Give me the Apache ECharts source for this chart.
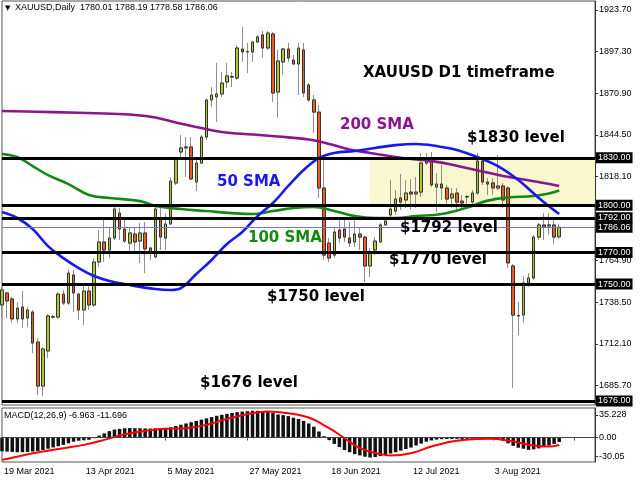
<!DOCTYPE html>
<html><head><meta charset="utf-8">
<script src="https://cdn.jsdelivr.net/npm/echarts@6/dist/echarts.min.js"></script>
<style>html,body{margin:0;padding:0;background:#fff}#c{width:640px;height:480px}</style>
</head><body><div id="c"></div>
<script>
const dates = ['19 Mar 2021','22 Mar 2021','23 Mar 2021','24 Mar 2021','25 Mar 2021','26 Mar 2021','29 Mar 2021','30 Mar 2021','31 Mar 2021',
'1 Apr 2021','5 Apr 2021','6 Apr 2021','7 Apr 2021','8 Apr 2021','9 Apr 2021','12 Apr 2021','13 Apr 2021','14 Apr 2021','15 Apr 2021','16 Apr 2021','19 Apr 2021','20 Apr 2021','21 Apr 2021','22 Apr 2021','23 Apr 2021','26 Apr 2021','27 Apr 2021','28 Apr 2021','29 Apr 2021','30 Apr 2021',
'3 May 2021','4 May 2021','5 May 2021','6 May 2021','7 May 2021','10 May 2021','11 May 2021','12 May 2021','13 May 2021','14 May 2021','17 May 2021','18 May 2021','19 May 2021','20 May 2021','21 May 2021','24 May 2021','25 May 2021','26 May 2021','27 May 2021','28 May 2021','31 May 2021',
'1 Jun 2021','2 Jun 2021','3 Jun 2021','4 Jun 2021','7 Jun 2021','8 Jun 2021','9 Jun 2021','10 Jun 2021','11 Jun 2021','14 Jun 2021','15 Jun 2021','16 Jun 2021','17 Jun 2021','18 Jun 2021','21 Jun 2021','22 Jun 2021','23 Jun 2021','24 Jun 2021','25 Jun 2021','28 Jun 2021','29 Jun 2021','30 Jun 2021',
'1 Jul 2021','2 Jul 2021','5 Jul 2021','6 Jul 2021','7 Jul 2021','8 Jul 2021','9 Jul 2021','12 Jul 2021','13 Jul 2021','14 Jul 2021','15 Jul 2021','16 Jul 2021','19 Jul 2021','20 Jul 2021','21 Jul 2021','22 Jul 2021','23 Jul 2021','26 Jul 2021','27 Jul 2021','28 Jul 2021','29 Jul 2021','30 Jul 2021',
'2 Aug 2021','3 Aug 2021','4 Aug 2021','5 Aug 2021','6 Aug 2021','9 Aug 2021','10 Aug 2021','11 Aug 2021','12 Aug 2021','13 Aug 2021','16 Aug 2021','17 Aug 2021','18 Aug 2021','19 Aug 2021','20 Aug 2021'];

const open = [1736.8,1744.4,1740.6,1727.9,1735.5,1728.5,1732.3,1713.3,1685.4,1707.6,
1729.1,1729.1,1743.7,1738.0,1755.8,1743.7,1733.6,1745.6,1736.8,1764.0,
1776.7,1771.6,1779.2,1795.0,1784.9,1776.0,1781.7,1777.3,1782.4,1772.9,
1767.2,1791.3,1779.2,1788.1,1814.1,1833.7,1836.3,1836.9,1814.7,1826.7,
1843.2,1866.7,1868.6,1870.5,1878.1,1881.2,1880.6,1899.0,1897.1,1897.1,
1903.4,1907.9,1899.6,1908.5,1871.7,1890.8,1899.0,1892.0,1889.5,1898.4,
1876.2,1866.7,1859.0,1810.9,1776.0,1768.4,1784.3,1784.9,1779.2,1776.7,
1781.7,1779.8,1761.5,1771.6,1776.7,1787.5,1793.8,1796.3,1804.6,1803.3,
1808.3,1807.1,1808.3,1826.7,1829.9,1811.5,1813.4,1810.9,1804.6,1807.7,
1802.6,1805.2,1802.0,1807.7,1828.0,1814.7,1814.1,1810.9,1812.2,1810.9,
1761.5,1729.8,1730.4,1750.7,1753.9,1779.8,1787.5,1786.8,1787.5,1780.01];
const close = [1746.3,1739.3,1727.9,1734.8,1727.9,1733.6,1712.7,1685.4,1708.9,1729.8,
1729.4,1743.7,1738.0,1757.0,1744.4,1733.6,1745.6,1736.8,1764.0,1776.7,
1771.6,1779.2,1797.6,1784.9,1777.3,1782.4,1776.7,1782.4,1772.3,1769.7,
1797.6,1779.8,1788.1,1815.3,1829.9,1836.3,1836.9,1816.6,1826.7,1843.2,
1866.7,1869.8,1870.5,1877.4,1881.9,1881.5,1899.6,1897.1,1897.4,1903.4,
1906.6,1899.6,1909.1,1871.1,1891.4,1899.0,1893.3,1889.5,1899.6,1871.1,
1866.7,1859.0,1810.9,1768.4,1766.5,1783.0,1779.2,1779.8,1776.0,1781.7,
1779.8,1761.5,1770.3,1777.3,1787.5,1790.0,1797.6,1803.9,1802.0,1807.7,
1807.1,1808.3,1826.7,1829.9,1812.8,1813.4,1810.9,1803.9,1807.1,1802.0,
1801.4,1805.5,1807.7,1828.0,1814.7,1813.4,1810.9,1812.2,1803.3,1763.4,
1730.4,1730.1,1750.7,1753.9,1779.8,1787.5,1786.2,1787.5,1779.8,1786.06];
const low = [1729.1,1728.5,1725.3,1725.3,1722.2,1722.8,1706.3,1679.7,1678.8,1703.2,
1728.0,1727.9,1736.8,1736.8,1732.3,1727.2,1724.1,1733.6,1735.5,1760.8,
1764.0,1766.5,1777.9,1777.9,1776.0,1769.7,1770.3,1763.4,1757.0,1765.3,
1766.5,1771.6,1771.6,1787.5,1812.8,1828.6,1817.9,1816.0,1809.0,1826.1,
1841.3,1862.2,1852.7,1868.6,1874.3,1874.9,1879.3,1890.8,1883.8,1890.8,
1902.8,1893.3,1898.4,1865.4,1855.3,1882.5,1890.8,1888.9,1869.8,1868.6,
1865.4,1845.8,1804.6,1765.3,1764.0,1766.5,1776.0,1776.7,1773.5,1773.5,
1771.6,1751.3,1754.5,1768.4,1776.0,1786.8,1790.6,1793.8,1797.0,1798.2,
1797.0,1798.2,1805.2,1825.5,1811.5,1795.7,1803.3,1798.9,1798.2,1795.7,
1798.2,1798.9,1800.1,1806.5,1812.8,1806.5,1806.5,1809.6,1798.2,1760.2,
1684.2,1717.7,1725.3,1748.2,1752.6,1777.9,1777.9,1781.1,1775.4,1778.58];
const high = [1748.2,1745.0,1741.8,1738.6,1745.6,1735.5,1733.6,1715.8,1710.1,1731.0,
1730.5,1745.0,1746.3,1759.6,1758.9,1744.4,1749.4,1749.4,1766.5,1784.3,
1790.6,1786.2,1800.1,1798.2,1790.6,1785.6,1786.2,1788.7,1789.4,1773.5,
1798.9,1798.2,1795.0,1817.9,1830.5,1844.5,1843.2,1843.2,1828.6,1844.5,
1867.5,1874.9,1890.1,1884.4,1890.1,1884.4,1901.5,1912.9,1902.8,1904.0,
1907.9,1910.4,1910.4,1909.8,1898.4,1899.6,1902.8,1895.2,1902.8,1902.8,
1877.4,1869.8,1863.5,1831.8,1779.2,1786.2,1790.6,1791.9,1789.4,1792.5,
1786.2,1780.5,1772.9,1779.8,1788.7,1791.9,1816.0,1809.6,1819.8,1816.0,
1816.6,1817.9,1833.1,1833.1,1833.7,1820.4,1825.5,1812.8,1810.9,1810.9,
1806.5,1806.5,1809.6,1833.1,1829.9,1817.2,1817.2,1831.8,1814.1,1812.2,
1762.7,1738.6,1755.1,1757.0,1781.1,1788.7,1795.0,1795.0,1792.5,1788.19];

const sma200 = [[0,1859.7],[10,1859.0],[20,1858.1],[26,1857.2],[30,1855.6],[34,1852.4],[38,1849.6],[43,1846.4],[49,1844.8],[54,1843.5],[60,1841.6],[64,1838.8],[68,1835.3],[72,1833.1],[77,1830.5],[82,1828.6],[86,1827.0],[90,1824.2],[94,1821.4],[98,1818.5],[102,1816.3],[106,1814.1],[109,1812.2]];
const sma100 = [[0,1832.5],[3,1830.5],[6,1824.8],[9,1819.1],[13,1813.4],[17,1806.5],[21,1804.6],[27,1802.6],[30,1799.5],[35,1797.6],[40,1796.3],[45,1795.0],[49,1794.4],[53,1796.3],[57,1798.2],[61,1798.9],[65,1796.3],[69,1793.1],[73,1791.9],[77,1791.9],[81,1793.1],[86,1794.4],[91,1798.5],[95,1802.9],[99,1804.9],[104,1805.8],[107,1807.4],[109,1809.3]];
const sma50 = [[0,1795.7],[3,1791.9],[6,1784.9],[9,1774.1],[12,1766.5],[15,1760.2],[18,1755.1],[21,1752.0],[25,1749.4],[30,1746.9],[33,1746.3],[35,1747.5],[38,1756.4],[41,1765.3],[44,1775.4],[47,1783.0],[50,1793.1],[53,1801.4],[56,1812.2],[59,1822.3],[62,1829.9],[65,1833.1],[69,1834.4],[73,1836.3],[77,1838.1],[81,1838.8],[85,1837.5],[89,1835.0],[93,1830.5],[97,1824.8],[101,1816.0],[105,1804.6],[109,1794.4]];

const macdHist = [-21.5,-22,-22.5,-23,-23,-22.5,-22,-21,-19.5,-17.5,
-15.5,-13.5,-11.5,-9,-6.5,-5,-4.2,-3.5,-1,3,
6.5,10,12.5,13.5,14.5,14.8,14.6,14.5,14.2,14,
14.3,14.6,15,16,18,20,22,24,26,28,
30,32,34,35.5,37,38.5,39.7,40.5,41.2,41.8,
41.8,41.5,40.7,38.5,36,35,33.5,31,29,26,
22,17,9.5,2,-4,-10,-15,-19.5,-23,-26,
-28,-30,-31.3,-30.5,-29,-27,-25,-23,-20.5,-18,
-15.7,-12.5,-9.5,-6.5,-4.5,-3.2,-2.6,-2.3,-2.2,-2.1,
-2.2,-2.1,-2,-1.5,-2,-2.3,-2.6,-3,-5,-9,
-13,-16,-17.5,-19.3,-18.5,-17,-15,-12.5,-10,-6.963];
const macdSignal = [[0,-35],[4,-28],[8,-22],[12,-16.7],[16,-11.5],[20,-3.7],[24,5.2],[28,10.4],[32,13.6],[36,14.6],[40,19.8],[44,29.2],[48,36.5],[52,40.7],[56,38.1],[60,31.3],[64,14.6],[67,-1],[70,-16.7],[74,-26],[76,-28.2],[80,-24.5],[84,-14.1],[88,-6.3],[92,-2.6],[96,-2.1],[100,-6.3],[104,-12.5],[107,-14.1],[109,-11.696]];

const levels = [1830, 1800, 1792, 1770, 1750, 1676];
const priceTicks = [1685.7, 1712.1, 1738.5, 1764.9, 1818.1, 1844.5, 1870.9, 1897.3, 1923.7];
const macdTicks = [-30.05, 0, 35.228];
const macdTickLabels = ['-30.05', '0.00', '35.228'];
const rangeStartIndex = 72;
const rangeTop = 1830, rangeBottom = 1800;
const padBars = 7;

const cats = dates.concat(new Array(padBars).fill(''));
const lastIdx = cats.length - 1;
const candles = open.map((o, i) => [o, close[i], low[i], high[i]]);
const bodies = open.map((o, i) => [o, close[i], Math.min(o, close[i]), Math.max(o, close[i])]);
const lastClose = close[close.length - 1];

const smallFont = {fontFamily: 'Liberation Sans', fontSize: 9, color: '#000'};
const boxLabel = {show: true, position: 'end', distance: 1, formatter: p => p.value.toFixed(2),
  backgroundColor: '#000', color: '#fff', fontFamily: 'Liberation Sans', fontSize: 9, padding: [1, 2, 0, 2], lineHeight: 10};

const chart = echarts.init(document.getElementById('c'), null, {renderer: 'canvas'});
const bold = 'bold 15px "DejaVu Sans"';
function txt(text, x, y, fill) {
  return {type: 'text', x: x, y: y, z: 100, style: {text: text, font: bold, fill: fill, verticalAlign: 'middle'}};
}
chart.setOption({
  animation: false,
  backgroundColor: '#fff',
  grid: [
    {left: 2, right: 45, top: 1, height: 404, show: true, borderColor: '#555', borderWidth: 1},
    {left: 2, right: 45, top: 408, height: 54, show: true, borderColor: '#555', borderWidth: 1}
  ],
  xAxis: [
    {type: 'category', gridIndex: 0, data: cats, boundaryGap: false, axisLine: {show: false}, axisTick: {show: false}, axisLabel: {show: false}, splitLine: {show: false}},
    {type: 'category', gridIndex: 1, data: cats, boundaryGap: false,
      axisLine: {show: true, lineStyle: {color: '#555'}},
      axisTick: {show: true, interval: 15, length: 3, lineStyle: {color: '#555'}},
      axisLabel: Object.assign({interval: 15, align: 'left', margin: 5, padding: [0, 0, 0, 2]}, smallFont),
      splitLine: {show: false}}
  ],
  yAxis: [
    {type: 'value', gridIndex: 0, position: 'right', min: 1673.4, max: 1929.4, scale: true,
      axisLine: {show: true, lineStyle: {color: '#333'}},
      axisTick: {show: true, customValues: priceTicks, length: 3, lineStyle: {color: '#333'}},
      axisLabel: Object.assign({customValues: priceTicks, formatter: v => v.toFixed(2), margin: 4}, smallFont),
      splitLine: {show: false}},
    {type: 'value', gridIndex: 1, position: 'right', min: -38.3, max: 46.2,
      axisLine: {show: true, lineStyle: {color: '#333'}},
      axisTick: {show: true, customValues: macdTicks, length: 3, lineStyle: {color: '#333'}},
      axisLabel: Object.assign({customValues: macdTicks, formatter: v => macdTickLabels[macdTicks.indexOf(v)] || '', margin: 4}, smallFont),
      splitLine: {show: false}}
  ],
  series: [
    {type: 'line', xAxisIndex: 0, yAxisIndex: 0, data: [], z: 1, silent: true,
      markArea: {silent: true, itemStyle: {color: '#f9f7cf'},
        data: [[{coord: [rangeStartIndex, rangeTop]}, {coord: [lastIdx, rangeBottom]}]]}},
    {type: 'candlestick', xAxisIndex: 0, yAxisIndex: 0, data: candles, barWidth: 3, z: 2, clip: true,
      itemStyle: {color: '#a9c92e', color0: '#ee5b1f', borderColor: '#8f8f8f', borderColor0: '#8f8f8f', borderWidth: 1}},
    {type: 'candlestick', xAxisIndex: 0, yAxisIndex: 0, data: bodies, barWidth: 3, z: 3, clip: true,
      itemStyle: {color: '#a9c92e', color0: '#ee5b1f', borderColor: '#333', borderColor0: '#333', borderWidth: 1}},
    {type: 'line', name: '200 SMA', xAxisIndex: 0, yAxisIndex: 0, data: sma200, smooth: 0.4, showSymbol: false, z: 4,
      lineStyle: {color: '#8b158b', width: 2.6}},
    {type: 'line', name: '100 SMA', xAxisIndex: 0, yAxisIndex: 0, data: sma100, smooth: 0.4, showSymbol: false, z: 4,
      lineStyle: {color: '#128a12', width: 2.6}},
    {type: 'line', name: '50 SMA', xAxisIndex: 0, yAxisIndex: 0, data: sma50, smooth: 0.4, showSymbol: false, z: 4,
      lineStyle: {color: '#1818f0', width: 2.6}},
    {type: 'line', xAxisIndex: 0, yAxisIndex: 0, data: [], z: 6, silent: true,
      markLine: {silent: true, symbol: 'none', animation: false,
        data: [{yAxis: lastClose, lineStyle: {color: '#7373d6', width: 1, type: 'solid'}, label: boxLabel}]
          .concat(levels.map(v => ({yAxis: v, lineStyle: {color: '#000', width: 3, type: 'solid'}, label: boxLabel})))}},
    {type: 'bar', xAxisIndex: 1, yAxisIndex: 1, data: macdHist, barWidth: 3.5, itemStyle: {color: '#111'}, z: 2,
      markLine: {silent: true, symbol: 'none', data: [{yAxis: 0}], lineStyle: {color: '#444', width: 1, type: 'solid'}, label: {show: false}}},
    {type: 'line', xAxisIndex: 1, yAxisIndex: 1, data: macdSignal, smooth: 0.4, showSymbol: false, z: 4,
      lineStyle: {color: '#ff0000', width: 2}}
  ],
  graphic: [
    {type: 'text', x: 5, y: 8, z: 100, style: {text: '\u25BC', font: '7px "DejaVu Sans"', fill: '#000', verticalAlign: 'middle'}},
    {type: 'text', x: 15, y: 8, z: 100, style: {text: 'XAUUSD,Daily  1780.01 1788.19 1778.58 1786.06', font: '9px "Liberation Sans"', fill: '#000', verticalAlign: 'middle'}},
    {type: 'text', x: 4, y: 416, z: 100, style: {text: 'MACD(12,26,9) -6.963 -11.696', font: '9px "Liberation Sans"', fill: '#000', verticalAlign: 'middle'}},
    txt('XAUUSD D1 timeframe', 363, 73, '#000'),
    txt('200 SMA', 340, 125, '#8b158b'),
    txt('$1830 level', 467, 138, '#000'),
    txt('50 SMA', 217, 182, '#1818f0'),
    txt('100 SMA', 248, 238, '#128a12'),
    txt('$1792 level', 400, 228, '#000'),
    txt('$1770 level', 389, 260, '#000'),
    txt('$1750 level', 267, 297, '#000'),
    txt('$1676 level', 200, 383, '#000')
  ]
});
</script></body></html>
